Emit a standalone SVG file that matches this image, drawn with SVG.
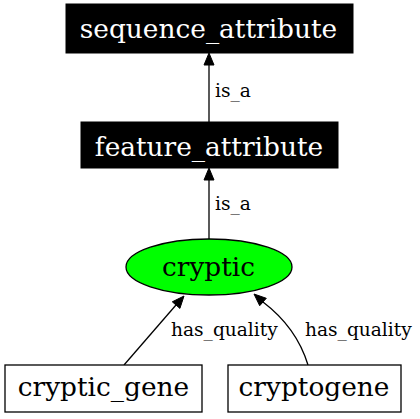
<svg xmlns="http://www.w3.org/2000/svg" width="420" height="419" viewBox="0 0 420 419">
<style>
.nl{font-family:"DejaVu Serif",serif;font-size:26.4px;text-anchor:middle}
.el{font-family:"DejaVu Serif",serif;font-size:18.6px}
.edge{fill:none;stroke:#000;stroke-width:1.3}
.ah{fill:#000;stroke:#000;stroke-width:1}
</style>
<rect width="420" height="419" fill="#fff"/>
<g id="connectors">
  <g id="e1">
    <line class="edge" x1="209" y1="122" x2="209" y2="64"/>
    <polygon class="ah" points="209,53 204,65 214,65"/>
    <text class="el" x="215" y="97">is_a</text>
  </g>
  <g id="e2">
    <line class="edge" x1="209" y1="239" x2="209" y2="180"/>
    <polygon class="ah" points="209,168 204,180 214,180"/>
    <text class="el" x="215" y="210">is_a</text>
  </g>
  <g id="e3">
    <line class="edge" x1="124" y1="365" x2="176" y2="305"/>
    <polygon class="ah" points="184,296 179.9,308.4 172.3,301.8"/>
    <text class="el" x="171" y="336">has_quality</text>
  </g>
  <g id="e4">
    <path class="edge" d="M308,365 C301,342 288,321 263,302"/>
    <polygon class="ah" points="254,294 266.3,298.3 259.7,305.7"/>
    <text class="el" x="305" y="336">has_quality</text>
  </g>
</g>
<g id="sequence_attribute">
  <rect x="66" y="4" width="287" height="49" fill="#000" stroke="#000"/>
  <text class="nl" x="208.5" y="38" fill="#fff">sequence_attribute</text>
</g>
<g id="feature_attribute">
  <rect x="81" y="122" width="257" height="46" fill="#000" stroke="#000"/>
  <text class="nl" x="209" y="156" fill="#fff">feature_attribute</text>
</g>
<g id="cryptic">
  <ellipse cx="209" cy="267" rx="83" ry="28" fill="#00ff00" stroke="#000" stroke-width="1.3"/>
  <text class="nl" x="208.5" y="276">cryptic</text>
</g>
<g id="cryptic_gene">
  <rect x="5" y="365" width="197" height="47" fill="#fff" stroke="#000" stroke-width="1.3"/>
  <text class="nl" x="103.5" y="396">cryptic_gene</text>
</g>
<g id="cryptogene">
  <rect x="228" y="365" width="173" height="47" fill="#fff" stroke="#000" stroke-width="1.3"/>
  <text class="nl" x="314" y="396">cryptogene</text>
</g>
</svg>
